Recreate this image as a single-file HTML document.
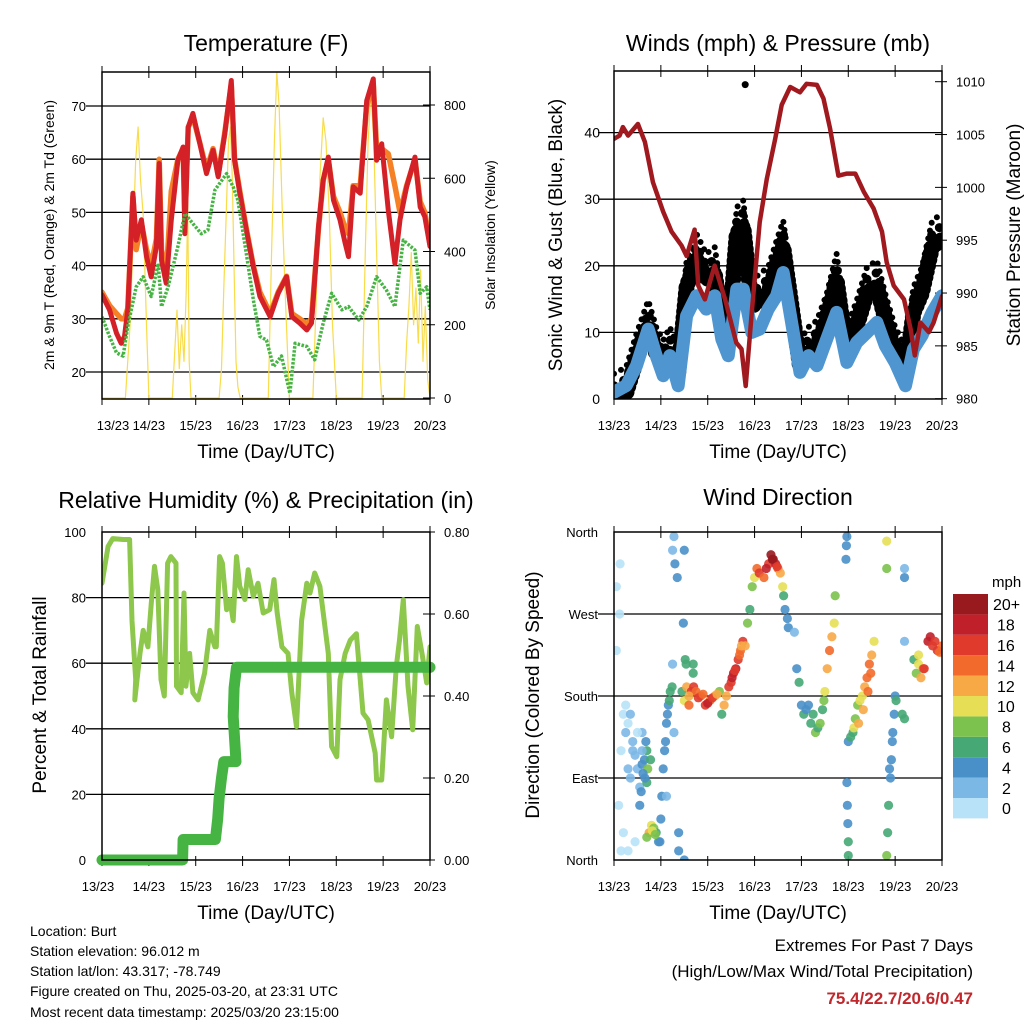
<!DOCTYPE html>
<html><head><meta charset="utf-8"><style>
html,body{margin:0;padding:0;background:#fff;}
svg{display:block;font-family:"Liberation Sans",sans-serif;}
</style></head><body>
<svg id="c" width="1024" height="1024" viewBox="0 0 1024 1024">
<rect x="0" y="0" width="1024" height="1024" fill="#fff"/>
<g id="layer"></g>
<g font-size="23" text-anchor="middle" fill="#000">
<text x="266" y="51">Temperature (F)</text>
<text x="778" y="51">Winds (mph) &amp; Pressure (mb)</text>
<text x="266" y="508">Relative Humidity (%) &amp; Precipitation (in)</text>
<text x="778" y="505">Wind Direction</text>
</g>
<g font-size="19" text-anchor="middle">
<text x="266" y="458">Time (Day/UTC)</text>
<text x="778" y="458">Time (Day/UTC)</text>
<text x="266" y="919">Time (Day/UTC)</text>
<text x="778" y="919">Time (Day/UTC)</text>
<text transform="translate(562,235) rotate(-90)">Sonic Wind &amp; Gust (Blue, Black)</text>
<text transform="translate(1020,235) rotate(-90)">Station Pressure (Maroon)</text>
<text transform="translate(46,695) rotate(-90)">Percent &amp; Total Rainfall</text>
<text transform="translate(539,695) rotate(-90)">Direction (Colored By Speed)</text>
</g>
<g font-size="14" text-anchor="middle">
<text transform="translate(54,235) rotate(-90)">2m &amp; 9m T (Red, Orange) &amp; 2m Td (Green)</text>
<text transform="translate(495,235) rotate(-90)">Solar Insolation (Yellow)</text>
</g>
<g font-size="14">
<text x="30" y="936">Location: Burt</text>
<text x="30" y="956">Station elevation: 96.012 m</text>
<text x="30" y="976">Station lat/lon: 43.317; -78.749</text>
<text x="30" y="996">Figure created on Thu, 2025-03-20, at 23:31 UTC</text>
<text x="30" y="1017">Most recent data timestamp: 2025/03/20 23:15:00</text>
</g>
<g font-size="17" text-anchor="end">
<text x="973" y="951">Extremes For Past 7 Days</text>
<text x="973" y="977">(High/Low/Max Wind/Total Precipitation)</text>
<text x="973" y="1004" font-weight="bold" fill="#c0282d">75.4/22.7/20.6/0.47</text>
</g>
<text x="992" y="587" font-size="15">mph</text>
</svg>
<script>
const dayLabels=["13/23","14/23","15/23","16/23","17/23","18/23","19/23","20/23"];
// Temperature (F)
const redT=[0,0.16,0.31,0.41,0.48,0.55,0.66,0.73,0.84,0.95,1.05,1.16,1.22,1.27,1.37,1.48,1.62,1.73,1.77,1.84,1.94,2.09,2.23,2.37,2.48,2.62,2.76,2.83,2.94,3.08,3.23,3.37,3.59,3.76,3.94,4.05,4.22,4.37,4.47,4.62,4.72,4.83,4.94,5.08,5.19,5.26,5.36,5.51,5.65,5.79,5.86,5.97,6.11,6.25,6.36,6.5,6.68,6.79,6.89,7.0];
const redV=[34.5,31.7,27.3,25.4,26.7,31.7,53.6,44.8,48.6,41.7,37.9,43.6,59.2,41,36.7,48.6,59.8,62.3,46,66,68.6,62.9,57.3,61.7,56.7,64.8,74.8,59.8,53.6,46.7,39.8,34.2,30.4,34.8,37.9,30.4,29.2,27.9,29.2,47.3,56.1,60.4,52.3,48.6,44.2,41.7,54.8,53.6,71,75.1,59.8,62.9,50.4,40.4,48.6,54.8,60.4,51,49.2,43.6];
const orangeV=[35,32.5,31,30,30,32,53,43,48,43,40,45,60,43,38,54,60,62,48,66,68,63,58,62,57,65,74,60,54,47,40,35,31,35,38,31,30,29,30,47,56,60,53,50,47,46,55,55,70,74,62,62,61,55,50,55,60,52,50,44];
const greenT=[0,0.16,0.31,0.45,0.55,0.73,0.88,1.05,1.2,1.27,1.41,1.62,1.77,1.94,2.12,2.26,2.41,2.66,2.8,2.9,3.08,3.23,3.37,3.51,3.66,3.83,4.01,4.12,4.37,4.54,4.72,4.9,5.12,5.26,5.48,5.65,5.86,6.07,6.25,6.43,6.68,6.79,6.93,7.0];
const greenV=[30.4,26.7,23.6,23,28.6,36,37.9,34.2,40.4,32.3,36,43.6,49.8,47.9,46,46.7,54.2,57.3,54.8,52.3,42.3,33.6,26.7,26,21,23,16,25.4,24.8,22.3,29.2,34.8,31.7,32.3,29.8,32.3,37.9,35.4,32.3,44.8,42.9,34.8,36,31.7];
const solarT=[0,0.5,0.6,0.66,0.72,0.77,0.82,0.88,0.95,1.0,1.5,1.55,1.6,1.65,1.7,1.75,1.8,1.83,1.86,1.9,2.5,2.55,2.6,2.65,2.7,2.74,2.78,2.82,2.86,2.9,2.95,3.55,3.62,3.68,3.73,3.78,3.85,3.92,4.0,4.5,4.58,4.65,4.72,4.78,4.85,4.92,5.0,5.55,5.62,5.68,5.74,5.8,5.86,5.92,5.97,6.45,6.5,6.55,6.6,6.65,6.7,6.75,6.8,6.85,6.9,6.95,7.0];
const solarV=[0,0,200,420,650,740,600,500,200,0,0,120,240,80,200,100,300,534,100,0,0,80,300,500,700,740,600,350,100,30,0,0,400,700,890,800,500,250,0,0,300,600,765,700,500,200,0,0,400,700,834,700,400,100,0,0,150,250,397,200,300,150,350,100,250,50,0];
// Winds & pressure
const presT=[0,0.12,0.19,0.3,0.51,0.66,0.83,1.05,1.23,1.44,1.55,1.72,1.8,1.94,2.15,2.37,2.61,2.72,2.81,2.94,3.11,3.26,3.44,3.58,3.76,3.97,4.11,4.33,4.47,4.61,4.79,4.97,5.15,5.33,5.54,5.72,5.82,5.97,6.19,6.33,6.42,6.54,6.72,6.82,7.0];
const presV=[1004.6,1004.9,1005.7,1004.9,1006,1004.3,1000.5,997.7,995.8,994.5,993.5,996,990.7,989.4,992.6,989.4,985.3,984.7,981.2,988.2,996.7,1000.8,1004.6,1007.8,1009.5,1009,1009.8,1009.7,1008.4,1005.6,1001.1,1001.3,1001.3,999.6,998,995.8,992.9,990.7,989.4,986.6,984.1,987.2,986.3,987.2,989.7];
const windT=[0,0.26,0.48,0.73,0.9,1.05,1.19,1.37,1.55,1.76,1.97,2.15,2.3,2.44,2.62,2.76,2.94,3.11,3.29,3.47,3.61,3.79,3.97,4.15,4.33,4.54,4.75,4.97,5.18,5.4,5.61,5.79,6.0,6.22,6.39,6.57,6.79,7.0];
const windV=[1,2,5,10.5,6.5,3.5,6.5,2,12.5,15.5,13.5,15.5,9,6.5,16.5,16.5,10,10.5,13.5,15.5,19,11.5,4,6.5,5,9,13,5.5,8.5,10,11.5,8,5.5,2,7.5,9.5,13,15.5];
const gustV=[2,3,8,13,9,7,9,6,19,23,20,21,14,11,27,28,16,17,18,22,25,16,7,9,10,14,20,9,13,18,19,14,9,6,15,18,25,26];
const gustOutlierT=[2.8];
const gustOutlierV=[47.2];
// Humidity & precipitation
const rhT=[0,0.06,0.13,0.23,0.45,0.59,0.64,0.72,0.7,0.81,0.88,0.98,1.05,1.12,1.19,1.26,1.33,1.4,1.47,1.58,1.59,1.69,1.75,1.79,1.87,1.94,2.05,2.19,2.3,2.41,2.44,2.51,2.57,2.66,2.73,2.8,2.87,2.94,3.05,3.12,3.23,3.33,3.44,3.58,3.67,3.74,3.84,3.97,4.05,4.15,4.26,4.37,4.44,4.54,4.65,4.83,4.9,5.01,5.08,5.19,5.3,5.43,5.57,5.68,5.83,5.86,5.97,6.07,6.18,6.28,6.35,6.43,6.53,6.63,6.73,6.83,6.93,7.0];
const rhV=[84.4,89.5,95.6,98,97.7,97.7,73,55,48.8,63,70,65,78,89.5,82.4,55,50,90.5,92.5,90.5,53,51,81.4,53,63,51,48.8,57,70,65,65,92.5,90.5,76.3,79.4,73,92.5,83.4,79.4,88.5,80.4,84.4,75.3,76.3,85.5,75.3,65,63,51,40.7,73,84.4,81.4,87.5,83.4,63,34.6,31.5,55,63,67,69,44.8,42.7,32.6,24.4,24.4,48.8,37.6,59,67,79.4,53,39.7,71.2,63,54,65];
const precipT=[0,1.72,1.73,2.42,2.47,2.5,2.55,2.6,2.86,2.8,2.82,2.87,7.0];
const precipV=[0,0,0.05,0.05,0.1,0.15,0.2,0.24,0.24,0.35,0.42,0.47,0.47];
// Wind direction (day, degrees, mph)
const dirT=[0.05,0.05,0.1,0.15,0.2,0.15,0.25,0.3,0.35,0.4,0.45,0.5,0.55,0.6,0.65,0.55,0.45,0.3,0.2,0.12,0.13,0.25,0.7,0.72,0.7,0.66,0.68,0.6,0.75,0.8,0.85,0.9,0.95,0.7,0.98,1.0,1.02,1.05,1.08,1.12,1.16,1.2,1.24,1.25,1.28,1.3,1.35,1.38,1.38,1.25,1.28,1.12,1.5,1.48,1.5,1.45,1.5,1.55,1.6,1.65,1.7,1.75,1.85,1.95,2.05,2.15,2.25,2.3,2.35,1.52,1.54,1.69,1.69,2.4,2.5,2.55,2.6,2.65,2.7,2.75,2.8,2.85,2.9,2.95,3.0,3.05,3.1,3.2,3.3,3.35,3.4,3.45,3.5,3.55,3.6,3.62,3.65,3.7,3.72,3.9,3.95,4.0,4.05,4.15,4.25,4.3,4.35,4.45,4.5,4.55,4.6,4.65,4.7,4.72,4.97,4.98,4.99,5.0,5.0,4.96,4.97,4.95,5.0,5.05,5.1,5.15,5.2,5.25,5.3,5.35,5.4,5.45,5.5,5.55,5.82,5.82,5.82,5.84,5.86,5.9,5.92,5.95,5.98,6.0,6.02,6.15,6.2,6.4,6.45,6.5,6.55,6.6,6.7,6.8,6.9,7.0,6.2,6.2,6.2,3.85,0.3,0.4,0.5,0.35,0.6,0.62,0.58,0.78,0.82,0.88,1.1,1.14,1.18,1.6,1.8,1.9,2.0,2.1,2.2,2.45,2.52,2.58,2.68,2.72,3.25,3.38,3.48,4.1,4.2,4.4,4.48,5.12,5.22,5.32,5.42,5.48,5.88,5.94,6.5,6.62,6.75,6.85,6.95];
const dirV=[230,300,60,10,160,120,140,100,160,130,115,100,80,105,110,60,20,10,30,270,325,170,120,100,85,90,130,140,30,38,35,30,20,25,20,45,70,100,120,150,170,185,190,340,355,325,310,30,10,215,140,70,0,260,340,185,175,190,170,185,190,185,180,170,175,180,185,160,170,220,215,205,215,180,195,205,210,220,230,240,235,260,275,300,310,320,315,310,325,335,330,325,320,315,300,290,275,265,255,210,195,170,160,170,160,140,145,165,185,210,230,245,260,290,85,60,40,20,5,345,355,330,130,135,140,155,170,175,180,190,200,215,225,240,350,320,5,30,60,90,110,140,160,180,175,160,155,220,205,215,200,210,240,235,230,235,320,310,240,250,150,120,140,90,120,95,75,110,32,28,130,160,175,180,178,182,172,178,182,190,200,208,225,235,320,330,322,165,150,150,175,145,150,165,185,205,100,130,225,210,245,240,228];
const dirS=[1,1,0,1,1,0,2,2,2,2,2,3,3,4,4,4,1,1,1,1,1,0,6,8,6,4,5,3,12,10,8,6,5,8,4,4,4,4,4,4,5,6,6,3,3,4,4,4,4,3,3,3,4,4,4,6,10,12,14,16,16,14,14,16,14,12,8,6,12,6,6,6,6,12,16,18,18,16,14,16,12,8,6,8,10,14,16,14,16,20,20,18,14,12,10,6,4,4,4,4,6,4,6,4,6,8,6,6,10,12,14,12,10,8,4,4,4,6,6,5,4,4,4,6,6,8,8,10,10,12,14,14,12,10,10,8,8,6,6,4,4,4,4,4,6,6,6,6,8,10,12,14,18,16,16,14,2,4,2,2,1,2,1,2,3,4,4,6,11,9,4,5,6,12,16,14,18,16,12,16,18,16,14,12,18,20,16,5,6,8,8,10,12,12,14,14,4,4,10,16,18,16,14];
const cbLabels=["0","2","4","6","8","10","12","14","16","18","20+"];
const cbColors=["#b8e2f7","#7cb8e6","#4a90c8","#46a874","#7cc24e","#e6df55","#f7a946","#f26a2c","#df3a2c","#c0202a","#981a1e"];

const NS="http://www.w3.org/2000/svg";
const layer=document.getElementById('layer');
function mk(tag,attrs,parent){const e=document.createElementNS(NS,tag);for(const k in attrs)e.setAttribute(k,attrs[k]);(parent||layer).appendChild(e);return e;}
function scale(d0,d1,r0,r1){return v=>r0+(v-d0)*(r1-r0)/(d1-d0);}
function pathD(ts,vs,sx,sy){let d="";for(let i=0;i<ts.length;i++)d+=(i?"L":"M")+sx(ts[i]).toFixed(1)+","+sy(vs[i]).toFixed(1);return d;}
function series(ts,vs,sx,sy,style,name){
  const el=mk('path',Object.assign({d:pathD(ts,vs,sx,sy),fill:'none','stroke-linejoin':'round','stroke-linecap':'round'},style));
  
  
  return el;
}
function frame(P,prefix,leftTicks,leftLabels,ly,rightTicks,rightLabels,ry,firstLabelX){
  const sx=scale(0,7,P.x0,P.x1);
  leftTicks.forEach((v,i)=>{
    const y=ly(v);
    if(y>P.y0+1&&y<P.y1-1){const g=mk('line',{x1:P.x0-16,x2:P.x1,y1:y,y2:y,stroke:'#000','stroke-width':1.3});
    
    }
    const t=mk('text',{x:P.x0-(P.lx||16),y:y+5,'font-size':P.lfs||13,'text-anchor':'end'});t.textContent=leftLabels[i];
    
    
  });
  rightTicks.forEach((v,i)=>{
    const y=ry(v);
    mk('line',{x1:P.x1-7,x2:P.x1+5,y1:y,y2:y,stroke:'#000','stroke-width':1});
    const t=mk('text',{x:P.x1+14,y:y+5,'font-size':13});t.textContent=rightLabels[i];
    
    
  });
  dayLabels.forEach((lab,i)=>{
    const x=sx(i);
    mk('line',{x1:x,x2:x,y1:P.y1-4,y2:P.y1+6,stroke:'#000','stroke-width':1});
    mk('line',{x1:x,x2:x,y1:P.y0-6,y2:P.y0+6,stroke:'#000','stroke-width':1});
    const t=mk('text',{x:i===0&&firstLabelX?firstLabelX:x,y:P.y1+31,'font-size':13,'text-anchor':'middle'});t.textContent=lab;
    
    
  });
  return sx;
}
function border(P,name){
  const b=mk('rect',{x:P.x0,y:P.y0,width:P.x1-P.x0,height:P.y1-P.y0,fill:'none',stroke:'#000','stroke-width':1.5});
  
  
}
function clip(P,id){const c=mk('clipPath',{id:id});mk('rect',{x:P.x0,y:P.y0,width:P.x1-P.x0,height:P.y1-P.y0},c);const g=mk('g',{'clip-path':'url(#'+id+')'});return g;}

// Panel 1
const P1={x0:102,x1:430,y0:72,y1:399};
const ty=scale(20,70,372,106), sy1=scale(0,800,398,105);
const sx1=frame(P1,'temperature',[20,30,40,50,60,70],["20","30","40","50","60","70"],ty,[0,200,400,600,800],["0","200","400","600","800"],sy1,113);
let g=clip(P1,'c1');
let e;
e=series(solarT,solarV,sx1,sy1,{stroke:'#f8dc4a','stroke-width':1.2},'solar-insolation-line');g.appendChild(e);
e=series(redT,orangeV,sx1,ty,{stroke:'#f58025','stroke-width':5.5},'temperature-9m-line');g.appendChild(e);
e=series(redT,redV,sx1,ty,{stroke:'#d42027','stroke-width':5},'temperature-2m-line');g.appendChild(e);
e=series(greenT,greenV,sx1,ty,{stroke:'#46b443','stroke-width':3.5,'stroke-dasharray':'2.5 1.5','stroke-linecap':'butt'},'dewpoint-line');g.appendChild(e);
border(P1,'temperature-plot-frame');

// Panel 2
const P2={x0:614,x1:942,y0:71,y1:399,lx:14,lfs:14};
const wy=scale(0,40,399,132.6), py=scale(980,1010,398.7,81.7);
const sx2=frame(P2,'winds',[0,10,20,30,40],["0","10","20","30","40"],wy,[980,985,990,995,1000,1005,1010],["980","985","990","995","1000","1005","1010"],py,null);
g=clip(P2,'c2');
e=series(windT,gustV,sx2,wy,{stroke:'#000','stroke-width':9,'stroke-dasharray':'0 11'},'gust-dots-upper');g.appendChild(e);
e=series(windT,gustV,sx2,wy,{stroke:'#000','stroke-width':16,'stroke-dasharray':'0 6','stroke-dashoffset':3,transform:'translate(0,14)'},'gust-dots-lower');g.appendChild(e);
e=series(windT,gustV,sx2,wy,{stroke:'#000','stroke-width':6,'stroke-dasharray':'0 8',transform:'translate(0,-12)'},'gust-dots-top');g.appendChild(e);
e=series(windT,windV,sx2,wy,{stroke:'#4f96d0','stroke-width':13},'wind-band');g.appendChild(e);
gustOutlierT.forEach((t,i)=>{const c=mk('circle',{cx:sx2(t),cy:wy(gustOutlierV[i]),r:3.5,fill:'#000'},g);

});
e=series(presT,presV,sx2,py,{stroke:'#a0191e','stroke-width':4.5},'pressure-line');g.appendChild(e);
border(P2,'winds-plot-frame');

// Panel 3
const P3={x0:102,x1:430,y0:532,y1:860};
const hy=scale(0,100,860,532), pry=scale(0,0.8,860,532);
const sx3=frame(P3,'humidity',[0,20,40,60,80,100],["0","20","40","60","80","100"],hy,[0,0.2,0.4,0.6,0.8],["0.00","0.20","0.40","0.60","0.80"],pry,98);
g=clip(P3,'c3');
e=series(rhT,rhV,sx3,hy,{stroke:'#8dc74b','stroke-width':5},'relative-humidity-line');g.appendChild(e);
e=series(precipT,precipV,sx3,pry,{stroke:'#46b443','stroke-width':11},'precipitation-line');
border(P3,'humidity-plot-frame');

// Panel 4
const P4={x0:614,x1:942,y0:532,y1:860,lx:16,lfs:13};
const dy=scale(0,360,860,532);
const sx4=frame(P4,'direction',[0,90,180,270,360],["North","East","South","West","North"],dy,[],[],dy,null);
g=clip(P4,'c4');
dirT.forEach((t,i)=>{
  const bin=Math.min(10,Math.floor(dirS[i]/2));
  const c=mk('circle',{cx:sx4(t),cy:dy(dirV[i]),r:4.6,fill:cbColors[bin],'fill-opacity':0.9},g);
  
  
});
border(P4,'direction-plot-frame');

// colorbar
const cbTop=594,cbH=20.4;
cbLabels.forEach((lab,i)=>{
  const y=cbTop+(10-i)*cbH;
  const r=mk('rect',{x:953,y:y,width:35,height:cbH,fill:cbColors[i]});
  
  
  const t=mk('text',{x:lab.length>2?993:(lab.length>1?997:1002),y:y+cbH/2+6,'font-size':16});t.textContent=lab;
  
  
});
</script>
</body></html>
